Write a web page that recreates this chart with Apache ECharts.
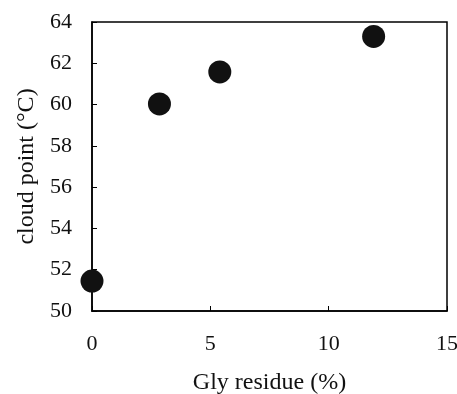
<!DOCTYPE html>
<html>
<head>
<meta charset="utf-8">
<script src="https://cdn.jsdelivr.net/npm/echarts@6/dist/echarts.min.js"></script>
<style>
  html, body { margin: 0; padding: 0; background: #fff; }
  #chart { width: 457px; height: 394px; }
</style>
</head>
<body>
<div id="chart"></div>
<script>
// Glycerol residue (%) vs. cloud point (°C)
const glyResidue = [0, 2.85, 5.4, 11.9];
const cloudPoint = [51.45, 60.03, 61.58, 63.3];
const xTicks = [0, 5, 10, 15];
const yTicks = [50, 52, 54, 56, 58, 60, 62, 64];

const font = 'Liberation Serif';
const chart = echarts.init(document.getElementById('chart'));
chart.setOption({
  animation: false,
  grid: {
    left: 92, right: 10, top: 22, bottom: 83,
    outerBoundsMode: 'none', containLabel: false,
    show: true, borderColor: '#000', borderWidth: 1.5, backgroundColor: 'transparent'
  },
  xAxis: {
    type: 'value',
    min: xTicks[0], max: xTicks[xTicks.length - 1], interval: 5,
    name: 'Gly residue (%)', nameLocation: 'middle', nameGap: 60,
    nameTextStyle: { fontFamily: font, fontSize: 24, color: '#111' },
    axisLine: { lineStyle: { color: '#000', width: 1.5 } },
    axisTick: { inside: true, length: 5, lineStyle: { color: '#000', width: 1 } },
    axisLabel: { fontFamily: font, fontSize: 22, color: '#111', margin: 22 },
    splitLine: { show: false }
  },
  yAxis: {
    type: 'value',
    min: yTicks[0], max: yTicks[yTicks.length - 1], interval: 2,
    name: 'cloud point (°C)', nameLocation: 'middle', nameGap: 52,
    nameTextStyle: { fontFamily: font, fontSize: 24, color: '#111' },
    axisLine: { lineStyle: { color: '#000', width: 1.5 } },
    axisTick: { inside: true, length: 5, lineStyle: { color: '#000', width: 1 } },
    axisLabel: { fontFamily: font, fontSize: 22, color: '#111', margin: 20 },
    splitLine: { show: false }
  },
  series: [{
    type: 'scatter',
    data: glyResidue.map((x, i) => [x, cloudPoint[i]]),
    symbol: 'circle',
    symbolSize: 23,
    itemStyle: { color: '#111', opacity: 1 }
  }]
});
</script>
</body>
</html>
